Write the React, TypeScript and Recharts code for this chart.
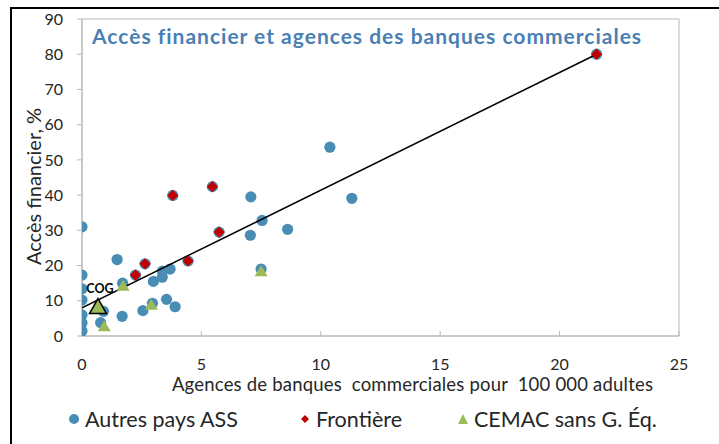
import { ScatterChart, Scatter, XAxis, YAxis, ReferenceArea, Legend, Label } from "recharts";

const FONT = "Lato, 'Open Sans', sans-serif";
const BLUE = "#4a8db4";
const RED = "#c00000";
const GREEN = "#9bbb59";
const AXIS = "#b8b8b8";
const TEXT = "#262626";

// Autres pays ASS (les points cachés sous les losanges / triangles inclus)
const autresX = [0, 0, 0, 0, 0, 0, 0, 0.78, 0.9, 1.47, 1.68, 1.7, 2.55, 2.95, 2.99, 3.36, 3.37, 3.69, 3.54, 3.9, 7.07, 7.05, 7.54, 7.5, 8.61, 10.38, 11.3, 3.8, 5.46, 5.74, 4.44, 2.64, 2.24, 21.55];
const autresY = [31, 17.3, 13.4, 10.2, 6, 3.7, 1.4, 3.8, 7.0, 21.7, 5.6, 15.0, 7.2, 9.3, 15.5, 16.7, 18.4, 19.0, 10.4, 8.3, 39.5, 28.6, 32.8, 19.0, 30.3, 53.6, 39.1, 39.9, 42.4, 29.5, 21.3, 20.5, 17.3, 80.0];

// Frontière
const frontX = [3.8, 5.46, 5.74, 4.44, 2.64, 2.24, 21.55];
const frontY = [39.9, 42.4, 29.5, 21.3, 20.5, 17.3, 80.0];

// CEMAC sans G. Éq.
const cemacX = [1.72, 2.9, 0.93, 7.5];
const cemacY = [14.4, 9.0, 2.9, 18.5];

// Congo
const cogX = [0.67];
const cogY = [8.5];
const cogName = ["COG"];

// droite de tendance
const trendX = [0, 21.55];
const trendY = [8.0, 80.0];

const xTicks = [0, 5, 10, 15, 20, 25];
const yTicks = [0, 10, 20, 30, 40, 50, 60, 70, 80, 90];

const zip = (xs: number[], ys: number[]) => xs.map((x, i) => ({ x, y: ys[i] }));

const autres = zip(autresX, autresY);
const front = zip(frontX, frontY);
const cemac = zip(cemacX, cemacY);
const cog = cogX.map((x, i) => ({ x, y: cogY[i], name: cogName[i] }));
const trend = zip(trendX, trendY);

const Dot = (p: any) => <circle cx={p.cx} cy={p.cy} r={5.6} fill={BLUE} />;

const Diamond = (p: any) => {
  const s = 5.6;
  return <path d={`M${p.cx},${p.cy - s}L${p.cx + s},${p.cy}L${p.cx},${p.cy + s}L${p.cx - s},${p.cy}Z`} fill={RED} />;
};

const Tri = (p: any) => {
  const w = 6.5, h = 11;
  return <path d={`M${p.cx},${p.cy - h / 2}L${p.cx + w},${p.cy + h / 2}L${p.cx - w},${p.cy + h / 2}Z`} fill={GREEN} />;
};

const BigTri = (p: any) => {
  const w = 8.5, h = 15;
  return (
    <g>
      <path d={`M${p.cx},${p.cy - h / 2}L${p.cx + w},${p.cy + h / 2}L${p.cx - w},${p.cy + h / 2}Z`} fill={GREEN} stroke="#000" strokeWidth={1.5} />
      <text x={p.cx + 2} y={p.cy - 13} textAnchor="middle" fontSize={12.5} fontWeight="bold" fill="#000" fontFamily={FONT}>{p.payload?.name}</text>
    </g>
  );
};

const NoShape = () => <g />;

const legendItems = [
  { label: "Autres pays ASS", kind: "dot", left: 68 },
  { label: "Frontière", kind: "diamond", left: 299 },
  { label: "CEMAC sans G. Éq.", kind: "tri", left: 457 },
];

const LegendContent = () => (
  <div style={{ position: "relative", width: 719, height: 30, fontFamily: FONT, fontSize: 21.5, color: TEXT }}>
    {legendItems.map(it => (
      <div key={it.label} style={{ position: "absolute", left: it.left, top: 0, display: "flex", alignItems: "center", height: 30, whiteSpace: "nowrap" }}>
        <svg width={12} height={12} style={{ marginRight: 5 }}>
          {it.kind === "dot" && <circle cx={6} cy={6} r={5} fill={BLUE} />}
          {it.kind === "diamond" && <path d="M6,2L10,6L6,10L2,6Z" fill={RED} />}
          {it.kind === "tri" && <path d="M6,1L11,11L1,11Z" fill={GREEN} />}
        </svg>
        <span>{it.label}</span>
      </div>
    ))}
  </div>
);

export default function App() {
  return (
    <div style={{ position: "absolute", left: 0, top: 0, width: 719, height: 444, background: "#fff", overflow: "hidden" }}>
      <div style={{ position: "absolute", left: 10, top: 7, width: 709, height: 2, background: "#000" }} />
      <div style={{ position: "absolute", left: 10, top: 7, width: 2, height: 437, background: "#000" }} />
      <div style={{ position: "absolute", left: 0, top: 0 }}>
        <ScatterChart width={719} height={444} margin={{ top: 19, right: 40, left: 0, bottom: 8 }}>
          <XAxis
            type="number"
            dataKey="x"
            domain={[0, 25]}
            ticks={xTicks}
            interval={0}
            height={70}
            tickSize={-5}
            tickMargin={28}
            axisLine={{ stroke: AXIS }}
            tickLine={{ stroke: AXIS }}
            tick={{ fontSize: 16, fill: TEXT, fontFamily: FONT }}
            allowDataOverflow
          >
            <Label value={"Agences de banques\u00A0 commerciales pour\u00A0 100\u00A0000 adultes"} position="insideTop" offset={42} dx={32} fontSize={18.5} letterSpacing={0.2} fill={TEXT} fontFamily={FONT} />
          </XAxis>
          <YAxis
            type="number"
            dataKey="y"
            domain={[0, 90]}
            ticks={yTicks}
            interval={0}
            width={82}
            tickSize={5}
            tickMargin={14}
            axisLine={{ stroke: AXIS }}
            tickLine={{ stroke: AXIS }}
            tick={{ fontSize: 16, fill: TEXT, fontFamily: FONT }}
            allowDataOverflow
          >
            <Label
              content={({ viewBox }: any) => {
                const cy = viewBox.y + viewBox.height / 2 + 9;
                return (
                  <text x={33} y={cy} transform={`rotate(-90 33 ${cy})`} textAnchor="middle" dominantBaseline="central" fontSize={20} fill={TEXT} fontFamily={FONT}>
                    Accès financier, %
                  </text>
                );
              }}
            />
          </YAxis>
          <ReferenceArea x1={0} x2={25} y1={0} y2={90} fill="none" stroke={AXIS} strokeWidth={1} ifOverflow="visible" />
          <Scatter name="Autres pays ASS" data={autres} shape={Dot} isAnimationActive={false} />
          <Scatter name="tendance" data={trend} line={{ stroke: "#000", strokeWidth: 1.5 }} shape={NoShape} isAnimationActive={false} legendType="none" />
          <Scatter name="Frontière" data={front} shape={Diamond} isAnimationActive={false} />
          <Scatter name="CEMAC sans G. Éq." data={cemac} shape={Tri} isAnimationActive={false} />
          <Scatter name="COG" data={cog} shape={BigTri} isAnimationActive={false} legendType="none" />
          <Legend verticalAlign="bottom" content={LegendContent} wrapperStyle={{ left: 0, top: 404, width: 719, height: 30 }} />
          <text x={92} y={44} fontSize={21} letterSpacing={1} fontWeight="bold" fill="#4a7fb4" fontFamily={FONT}>
            Accès financier et agences des banques commerciales
          </text>
        </ScatterChart>
      </div>
    </div>
  );
}
